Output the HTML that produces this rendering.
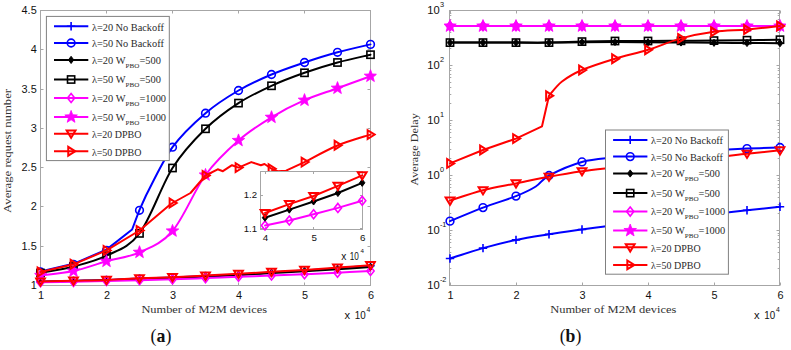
<!DOCTYPE html>
<html><head><meta charset="utf-8"><style>
html,body{margin:0;padding:0;background:#fff;width:791px;height:350px;overflow:hidden;position:relative;font-family:"Liberation Sans",sans-serif;}
</style></head><body>
<svg width="791" height="350" viewBox="0 0 791 350" style="position:absolute;left:0;top:0">
<rect width="791" height="350" fill="#fff"/>
<rect x="40.50" y="10.50" width="330.00" height="275.00" fill="#fff" stroke="#a6a6a6" stroke-width="1"/>
<path d="M40.50,285.50 v-3 M40.50,10.50 v3 M106.50,285.50 v-3 M106.50,10.50 v3 M172.50,285.50 v-3 M172.50,10.50 v3 M238.50,285.50 v-3 M238.50,10.50 v3 M304.50,285.50 v-3 M304.50,10.50 v3 M370.50,285.50 v-3 M370.50,10.50 v3 M40.50,285.50 h3 M370.50,285.50 h-3 M40.50,246.50 h3 M370.50,246.50 h-3 M40.50,206.50 h3 M370.50,206.50 h-3 M40.50,167.50 h3 M370.50,167.50 h-3 M40.50,128.50 h3 M370.50,128.50 h-3 M40.50,89.50 h3 M370.50,89.50 h-3 M40.50,49.50 h3 M370.50,49.50 h-3 M40.50,10.50 h3 M370.50,10.50 h-3" stroke="#a6a6a6" stroke-width="1" fill="none"/>
<defs><clipPath id="cl"><rect x="34.50" y="4.70" width="342.00" height="286.70"/></clipPath>
<clipPath id="cr"><rect x="444.00" y="4.50" width="342.00" height="287.00"/></clipPath></defs>
<g clip-path="url(#cl)">
<path d="M40.50,281.63 C46.00,281.50 62.50,281.11 73.50,280.85 C84.50,280.59 95.50,280.44 106.50,280.06 C117.50,279.68 128.50,278.99 139.50,278.57 C150.50,278.15 161.50,277.98 172.50,277.55 C183.50,277.12 194.50,276.50 205.50,275.98 C216.50,275.46 227.50,275.00 238.50,274.41 C249.50,273.82 260.50,273.10 271.50,272.45 C282.50,271.80 293.50,271.21 304.50,270.49 C315.50,269.77 326.50,268.92 337.50,268.13 C348.50,267.35 365.00,266.17 370.50,265.78" fill="none" stroke="#0000ff" stroke-width="2.00" stroke-linejoin="round" stroke-linecap="round"/>
<path d="M36.30,281.63 h8.40 M40.50,277.43 v8.40" stroke="#0000ff" stroke-width="1.60"/>
<path d="M69.30,280.85 h8.40 M73.50,276.65 v8.40" stroke="#0000ff" stroke-width="1.60"/>
<path d="M102.30,280.06 h8.40 M106.50,275.86 v8.40" stroke="#0000ff" stroke-width="1.60"/>
<path d="M135.30,278.57 h8.40 M139.50,274.37 v8.40" stroke="#0000ff" stroke-width="1.60"/>
<path d="M168.30,277.55 h8.40 M172.50,273.35 v8.40" stroke="#0000ff" stroke-width="1.60"/>
<path d="M201.30,275.98 h8.40 M205.50,271.78 v8.40" stroke="#0000ff" stroke-width="1.60"/>
<path d="M234.30,274.41 h8.40 M238.50,270.21 v8.40" stroke="#0000ff" stroke-width="1.60"/>
<path d="M267.30,272.45 h8.40 M271.50,268.25 v8.40" stroke="#0000ff" stroke-width="1.60"/>
<path d="M300.30,270.49 h8.40 M304.50,266.29 v8.40" stroke="#0000ff" stroke-width="1.60"/>
<path d="M333.30,268.13 h8.40 M337.50,263.93 v8.40" stroke="#0000ff" stroke-width="1.60"/>
<path d="M366.30,265.78 h8.40 M370.50,261.58 v8.40" stroke="#0000ff" stroke-width="1.60"/>
<path d="M40.50,271.50 L73.50,263.80 L106.50,249.60 L132.10,229.50 L139.30,210.30 L146.00,195.50 L146.00,195.50 C150.42,187.45 162.58,160.92 172.50,147.20 C182.42,133.48 194.50,122.65 205.50,113.20 C216.50,103.75 227.50,96.95 238.50,90.50 C249.50,84.05 260.50,79.17 271.50,74.50 C282.50,69.83 293.50,66.20 304.50,62.50 C315.50,58.80 326.50,55.32 337.50,52.30 C348.50,49.28 365.00,45.72 370.50,44.40" fill="none" stroke="#0000ff" stroke-width="2.00" stroke-linejoin="round" stroke-linecap="round"/>
<circle cx="40.50" cy="272.00" r="3.85" fill="none" stroke="#0000ff" stroke-width="1.60"/>
<circle cx="73.50" cy="264.30" r="3.85" fill="none" stroke="#0000ff" stroke-width="1.60"/>
<circle cx="106.50" cy="250.40" r="3.85" fill="none" stroke="#0000ff" stroke-width="1.60"/>
<circle cx="139.50" cy="210.30" r="3.85" fill="none" stroke="#0000ff" stroke-width="1.60"/>
<circle cx="172.50" cy="147.20" r="3.85" fill="none" stroke="#0000ff" stroke-width="1.60"/>
<circle cx="205.50" cy="113.20" r="3.85" fill="none" stroke="#0000ff" stroke-width="1.60"/>
<circle cx="238.50" cy="90.50" r="3.85" fill="none" stroke="#0000ff" stroke-width="1.60"/>
<circle cx="271.50" cy="74.50" r="3.85" fill="none" stroke="#0000ff" stroke-width="1.60"/>
<circle cx="304.50" cy="62.50" r="3.85" fill="none" stroke="#0000ff" stroke-width="1.60"/>
<circle cx="337.50" cy="52.30" r="3.85" fill="none" stroke="#0000ff" stroke-width="1.60"/>
<circle cx="370.50" cy="44.40" r="3.85" fill="none" stroke="#0000ff" stroke-width="1.60"/>
<path d="M40.50,281.87 C46.00,281.74 62.50,281.34 73.50,281.08 C84.50,280.82 95.50,280.63 106.50,280.30 C117.50,279.97 128.50,279.51 139.50,279.12 C150.50,278.73 161.50,278.38 172.50,277.94 C183.50,277.51 194.50,277.03 205.50,276.53 C216.50,276.03 227.50,275.54 238.50,274.96 C249.50,274.39 260.50,273.71 271.50,273.08 C282.50,272.45 293.50,271.84 304.50,271.19 C315.50,270.55 326.50,269.95 337.50,269.23 C348.50,268.51 365.00,267.27 370.50,266.88" fill="none" stroke="#000000" stroke-width="2.00" stroke-linejoin="round" stroke-linecap="round"/>
<path d="M40.50,278.27 L43.20,281.87 L40.50,285.47 L37.80,281.87 Z" fill="#000000" stroke="#000000" stroke-width="0.96"/>
<path d="M73.50,277.48 L76.20,281.08 L73.50,284.68 L70.80,281.08 Z" fill="#000000" stroke="#000000" stroke-width="0.96"/>
<path d="M106.50,276.70 L109.20,280.30 L106.50,283.90 L103.80,280.30 Z" fill="#000000" stroke="#000000" stroke-width="0.96"/>
<path d="M139.50,275.52 L142.20,279.12 L139.50,282.72 L136.80,279.12 Z" fill="#000000" stroke="#000000" stroke-width="0.96"/>
<path d="M172.50,274.34 L175.20,277.94 L172.50,281.54 L169.80,277.94 Z" fill="#000000" stroke="#000000" stroke-width="0.96"/>
<path d="M205.50,272.93 L208.20,276.53 L205.50,280.13 L202.80,276.53 Z" fill="#000000" stroke="#000000" stroke-width="0.96"/>
<path d="M238.50,271.36 L241.20,274.96 L238.50,278.56 L235.80,274.96 Z" fill="#000000" stroke="#000000" stroke-width="0.96"/>
<path d="M271.50,269.48 L274.20,273.08 L271.50,276.68 L268.80,273.08 Z" fill="#000000" stroke="#000000" stroke-width="0.96"/>
<path d="M304.50,267.59 L307.20,271.19 L304.50,274.79 L301.80,271.19 Z" fill="#000000" stroke="#000000" stroke-width="0.96"/>
<path d="M337.50,265.63 L340.20,269.23 L337.50,272.83 L334.80,269.23 Z" fill="#000000" stroke="#000000" stroke-width="0.96"/>
<path d="M370.50,263.28 L373.20,266.88 L370.50,270.48 L367.80,266.88 Z" fill="#000000" stroke="#000000" stroke-width="0.96"/>
<path d="M40.50,273.00 C46.00,271.92 62.50,269.38 73.50,266.50 C84.50,263.62 95.50,261.22 106.50,255.70 C117.50,250.18 128.50,248.02 139.50,233.40 C150.50,218.78 161.50,185.43 172.50,168.00 C183.50,150.57 194.50,139.62 205.50,128.80 C216.50,117.98 227.50,110.27 238.50,103.10 C249.50,95.93 260.50,90.85 271.50,85.80 C282.50,80.75 293.50,76.68 304.50,72.80 C315.50,68.92 326.50,65.52 337.50,62.50 C348.50,59.48 365.00,56.00 370.50,54.70" fill="none" stroke="#000000" stroke-width="2.00" stroke-linejoin="round" stroke-linecap="round"/>
<rect x="36.90" y="269.40" width="7.20" height="7.20" fill="none" stroke="#000000" stroke-width="1.60"/>
<rect x="69.90" y="262.90" width="7.20" height="7.20" fill="none" stroke="#000000" stroke-width="1.60"/>
<rect x="102.90" y="252.10" width="7.20" height="7.20" fill="none" stroke="#000000" stroke-width="1.60"/>
<rect x="135.90" y="229.80" width="7.20" height="7.20" fill="none" stroke="#000000" stroke-width="1.60"/>
<rect x="168.90" y="164.40" width="7.20" height="7.20" fill="none" stroke="#000000" stroke-width="1.60"/>
<rect x="201.90" y="125.20" width="7.20" height="7.20" fill="none" stroke="#000000" stroke-width="1.60"/>
<rect x="234.90" y="99.50" width="7.20" height="7.20" fill="none" stroke="#000000" stroke-width="1.60"/>
<rect x="267.90" y="82.20" width="7.20" height="7.20" fill="none" stroke="#000000" stroke-width="1.60"/>
<rect x="300.90" y="69.20" width="7.20" height="7.20" fill="none" stroke="#000000" stroke-width="1.60"/>
<rect x="333.90" y="58.90" width="7.20" height="7.20" fill="none" stroke="#000000" stroke-width="1.60"/>
<rect x="366.90" y="51.10" width="7.20" height="7.20" fill="none" stroke="#000000" stroke-width="1.60"/>
<path d="M40.50,282.26 C46.00,282.20 62.50,282.06 73.50,281.87 C84.50,281.67 95.50,281.34 106.50,281.08 C117.50,280.82 128.50,280.59 139.50,280.30 C150.50,280.01 161.50,279.72 172.50,279.36 C183.50,278.99 194.50,278.53 205.50,278.10 C216.50,277.67 227.50,277.19 238.50,276.77 C249.50,276.35 260.50,276.02 271.50,275.59 C282.50,275.16 293.50,274.66 304.50,274.18 C315.50,273.69 326.50,273.21 337.50,272.69 C348.50,272.16 365.00,271.31 370.50,271.04" fill="none" stroke="#ff00ff" stroke-width="2.00" stroke-linejoin="round" stroke-linecap="round"/>
<path d="M40.50,277.76 L44.10,282.26 L40.50,286.76 L36.90,282.26 Z" fill="none" stroke="#ff00ff" stroke-width="1.60"/>
<path d="M73.50,277.37 L77.10,281.87 L73.50,286.37 L69.90,281.87 Z" fill="none" stroke="#ff00ff" stroke-width="1.60"/>
<path d="M106.50,276.58 L110.10,281.08 L106.50,285.58 L102.90,281.08 Z" fill="none" stroke="#ff00ff" stroke-width="1.60"/>
<path d="M139.50,275.80 L143.10,280.30 L139.50,284.80 L135.90,280.30 Z" fill="none" stroke="#ff00ff" stroke-width="1.60"/>
<path d="M172.50,274.86 L176.10,279.36 L172.50,283.86 L168.90,279.36 Z" fill="none" stroke="#ff00ff" stroke-width="1.60"/>
<path d="M205.50,273.60 L209.10,278.10 L205.50,282.60 L201.90,278.10 Z" fill="none" stroke="#ff00ff" stroke-width="1.60"/>
<path d="M238.50,272.27 L242.10,276.77 L238.50,281.27 L234.90,276.77 Z" fill="none" stroke="#ff00ff" stroke-width="1.60"/>
<path d="M271.50,271.09 L275.10,275.59 L271.50,280.09 L267.90,275.59 Z" fill="none" stroke="#ff00ff" stroke-width="1.60"/>
<path d="M304.50,269.68 L308.10,274.18 L304.50,278.68 L300.90,274.18 Z" fill="none" stroke="#ff00ff" stroke-width="1.60"/>
<path d="M337.50,268.19 L341.10,272.69 L337.50,277.19 L333.90,272.69 Z" fill="none" stroke="#ff00ff" stroke-width="1.60"/>
<path d="M370.50,266.54 L374.10,271.04 L370.50,275.54 L366.90,271.04 Z" fill="none" stroke="#ff00ff" stroke-width="1.60"/>
<path d="M40.50,275.40 C46.00,274.68 62.50,273.45 73.50,271.10 C84.50,268.75 95.50,264.43 106.50,261.30 C117.50,258.17 128.50,257.35 139.50,252.30 C150.50,247.25 161.50,243.88 172.50,231.00 C183.50,218.12 194.50,190.08 205.50,175.00 C216.50,159.92 227.50,150.12 238.50,140.50 C249.50,130.88 260.50,124.02 271.50,117.30 C282.50,110.58 293.50,105.05 304.50,100.20 C315.50,95.35 326.50,92.20 337.50,88.20 C348.50,84.20 365.00,78.20 370.50,76.20" fill="none" stroke="#ff00ff" stroke-width="2.00" stroke-linejoin="round" stroke-linecap="round"/>
<path d="M40.50,268.80 L42.13,273.16 L46.78,273.36 L43.14,276.26 L44.38,280.74 L40.50,278.17 L36.62,280.74 L37.86,276.26 L34.22,273.36 L38.87,273.16 Z" fill="#ff00ff" stroke="#ff00ff" stroke-width="0.80" stroke-linejoin="miter"/>
<path d="M73.50,264.50 L75.13,268.86 L79.78,269.06 L76.14,271.96 L77.38,276.44 L73.50,273.87 L69.62,276.44 L70.86,271.96 L67.22,269.06 L71.87,268.86 Z" fill="#ff00ff" stroke="#ff00ff" stroke-width="0.80" stroke-linejoin="miter"/>
<path d="M106.50,254.70 L108.13,259.06 L112.78,259.26 L109.14,262.16 L110.38,266.64 L106.50,264.07 L102.62,266.64 L103.86,262.16 L100.22,259.26 L104.87,259.06 Z" fill="#ff00ff" stroke="#ff00ff" stroke-width="0.80" stroke-linejoin="miter"/>
<path d="M139.50,245.70 L141.13,250.06 L145.78,250.26 L142.14,253.16 L143.38,257.64 L139.50,255.07 L135.62,257.64 L136.86,253.16 L133.22,250.26 L137.87,250.06 Z" fill="#ff00ff" stroke="#ff00ff" stroke-width="0.80" stroke-linejoin="miter"/>
<path d="M172.50,224.40 L174.13,228.76 L178.78,228.96 L175.14,231.86 L176.38,236.34 L172.50,233.77 L168.62,236.34 L169.86,231.86 L166.22,228.96 L170.87,228.76 Z" fill="#ff00ff" stroke="#ff00ff" stroke-width="0.80" stroke-linejoin="miter"/>
<path d="M205.50,168.40 L207.13,172.76 L211.78,172.96 L208.14,175.86 L209.38,180.34 L205.50,177.77 L201.62,180.34 L202.86,175.86 L199.22,172.96 L203.87,172.76 Z" fill="#ff00ff" stroke="#ff00ff" stroke-width="0.80" stroke-linejoin="miter"/>
<path d="M238.50,133.90 L240.13,138.26 L244.78,138.46 L241.14,141.36 L242.38,145.84 L238.50,143.27 L234.62,145.84 L235.86,141.36 L232.22,138.46 L236.87,138.26 Z" fill="#ff00ff" stroke="#ff00ff" stroke-width="0.80" stroke-linejoin="miter"/>
<path d="M271.50,110.70 L273.13,115.06 L277.78,115.26 L274.14,118.16 L275.38,122.64 L271.50,120.07 L267.62,122.64 L268.86,118.16 L265.22,115.26 L269.87,115.06 Z" fill="#ff00ff" stroke="#ff00ff" stroke-width="0.80" stroke-linejoin="miter"/>
<path d="M304.50,93.60 L306.13,97.96 L310.78,98.16 L307.14,101.06 L308.38,105.54 L304.50,102.97 L300.62,105.54 L301.86,101.06 L298.22,98.16 L302.87,97.96 Z" fill="#ff00ff" stroke="#ff00ff" stroke-width="0.80" stroke-linejoin="miter"/>
<path d="M337.50,81.60 L339.13,85.96 L343.78,86.16 L340.14,89.06 L341.38,93.54 L337.50,90.97 L333.62,93.54 L334.86,89.06 L331.22,86.16 L335.87,85.96 Z" fill="#ff00ff" stroke="#ff00ff" stroke-width="0.80" stroke-linejoin="miter"/>
<path d="M370.50,69.60 L372.13,73.96 L376.78,74.16 L373.14,77.06 L374.38,81.54 L370.50,78.97 L366.62,81.54 L367.86,77.06 L364.22,74.16 L368.87,73.96 Z" fill="#ff00ff" stroke="#ff00ff" stroke-width="0.80" stroke-linejoin="miter"/>
<path d="M40.50,281.48 C46.00,281.34 62.50,280.95 73.50,280.69 C84.50,280.43 95.50,280.30 106.50,279.91 C117.50,279.51 128.50,278.79 139.50,278.34 C150.50,277.88 161.50,277.62 172.50,277.16 C183.50,276.70 194.50,276.14 205.50,275.59 C216.50,275.04 227.50,274.49 238.50,273.86 C249.50,273.23 260.50,272.48 271.50,271.82 C282.50,271.17 293.50,270.64 304.50,269.94 C315.50,269.23 326.50,268.38 337.50,267.58 C348.50,266.79 365.00,265.56 370.50,265.15" fill="none" stroke="#ff0000" stroke-width="2.00" stroke-linejoin="round" stroke-linecap="round"/>
<path d="M36.10,278.40 L44.90,278.40 L40.50,285.66 Z" fill="none" stroke="#ff0000" stroke-width="2.00" stroke-linejoin="miter"/>
<path d="M69.10,277.61 L77.90,277.61 L73.50,284.87 Z" fill="none" stroke="#ff0000" stroke-width="2.00" stroke-linejoin="miter"/>
<path d="M102.10,276.83 L110.90,276.83 L106.50,284.09 Z" fill="none" stroke="#ff0000" stroke-width="2.00" stroke-linejoin="miter"/>
<path d="M135.10,275.26 L143.90,275.26 L139.50,282.52 Z" fill="none" stroke="#ff0000" stroke-width="2.00" stroke-linejoin="miter"/>
<path d="M168.10,274.08 L176.90,274.08 L172.50,281.34 Z" fill="none" stroke="#ff0000" stroke-width="2.00" stroke-linejoin="miter"/>
<path d="M201.10,272.51 L209.90,272.51 L205.50,279.77 Z" fill="none" stroke="#ff0000" stroke-width="2.00" stroke-linejoin="miter"/>
<path d="M234.10,270.78 L242.90,270.78 L238.50,278.04 Z" fill="none" stroke="#ff0000" stroke-width="2.00" stroke-linejoin="miter"/>
<path d="M267.10,268.74 L275.90,268.74 L271.50,276.00 Z" fill="none" stroke="#ff0000" stroke-width="2.00" stroke-linejoin="miter"/>
<path d="M300.10,266.86 L308.90,266.86 L304.50,274.12 Z" fill="none" stroke="#ff0000" stroke-width="2.00" stroke-linejoin="miter"/>
<path d="M333.10,264.50 L341.90,264.50 L337.50,271.76 Z" fill="none" stroke="#ff0000" stroke-width="2.00" stroke-linejoin="miter"/>
<path d="M366.10,262.07 L374.90,262.07 L370.50,269.33 Z" fill="none" stroke="#ff0000" stroke-width="2.00" stroke-linejoin="miter"/>
<path d="M40.50,272.00 L73.50,264.30 L106.50,250.40 L139.50,230.50 L169.60,205.00 L172.50,203.00 L190.50,193.00 L205.50,175.50 L217.70,169.30 L222.90,171.20 L232.00,165.20 L238.50,167.60 L251.30,162.10 L260.90,165.20 L264.50,164.00 L271.50,168.80 L277.70,171.20 L286.10,170.70 L304.50,162.10 L304.50,162.10 C310.00,159.33 326.50,150.08 337.50,145.50 C348.50,140.92 365.00,136.42 370.50,134.60" fill="none" stroke="#ff0000" stroke-width="2.00" stroke-linejoin="round" stroke-linecap="round"/>
<path d="M37.64,267.60 L37.64,276.40 L44.68,272.00 Z" fill="none" stroke="#ff0000" stroke-width="2.00"/>
<path d="M70.64,259.90 L70.64,268.70 L77.68,264.30 Z" fill="none" stroke="#ff0000" stroke-width="2.00"/>
<path d="M103.64,246.00 L103.64,254.80 L110.68,250.40 Z" fill="none" stroke="#ff0000" stroke-width="2.00"/>
<path d="M136.64,226.10 L136.64,234.90 L143.68,230.50 Z" fill="none" stroke="#ff0000" stroke-width="2.00"/>
<path d="M169.64,198.60 L169.64,207.40 L176.68,203.00 Z" fill="none" stroke="#ff0000" stroke-width="2.00"/>
<path d="M202.64,171.10 L202.64,179.90 L209.68,175.50 Z" fill="none" stroke="#ff0000" stroke-width="2.00"/>
<path d="M235.64,163.20 L235.64,172.00 L242.68,167.60 Z" fill="none" stroke="#ff0000" stroke-width="2.00"/>
<path d="M268.64,164.40 L268.64,173.20 L275.68,168.80 Z" fill="none" stroke="#ff0000" stroke-width="2.00"/>
<path d="M301.64,157.70 L301.64,166.50 L308.68,162.10 Z" fill="none" stroke="#ff0000" stroke-width="2.00"/>
<path d="M334.64,140.90 L334.64,149.70 L341.68,145.30 Z" fill="none" stroke="#ff0000" stroke-width="2.00"/>
<path d="M367.64,130.20 L367.64,139.00 L374.68,134.60 Z" fill="none" stroke="#ff0000" stroke-width="2.00"/>
</g>
<rect x="46.40" y="16.40" width="122.90" height="144.20" fill="#fff" stroke="#808080" stroke-width="1"/>
<path d="M54.00,26.30 H88.30" stroke="#0000ff" stroke-width="2.00"/>
<path d="M66.90,26.30 h8.40 M71.10,22.10 v8.40" stroke="#0000ff" stroke-width="1.60"/>
<text x="91.90" y="30.70" font-family="'Liberation Serif', serif" font-size="10.4" textLength="72.0" lengthAdjust="spacingAndGlyphs" fill="#2a2a2a">λ=20 No Backoff</text>
<path d="M54.00,43.00 H88.30" stroke="#0000ff" stroke-width="2.00"/>
<circle cx="71.10" cy="43.00" r="3.85" fill="none" stroke="#0000ff" stroke-width="1.60"/>
<text x="91.90" y="47.40" font-family="'Liberation Serif', serif" font-size="10.4" textLength="72.0" lengthAdjust="spacingAndGlyphs" fill="#2a2a2a">λ=50 No Backoff</text>
<path d="M54.00,59.90 H88.30" stroke="#000000" stroke-width="2.00"/>
<path d="M71.10,56.30 L73.80,59.90 L71.10,63.50 L68.40,59.90 Z" fill="#000000" stroke="#000000" stroke-width="0.96"/>
<text x="91.90" y="63.50" font-family="'Liberation Serif', serif" font-size="10.4" fill="#2a2a2a">λ=20 W<tspan font-size="7.1" dy="4.0">PBO</tspan><tspan dy="-4.0">=500</tspan></text>
<path d="M54.00,79.50 H88.30" stroke="#000000" stroke-width="2.00"/>
<rect x="67.50" y="75.90" width="7.20" height="7.20" fill="none" stroke="#000000" stroke-width="1.60"/>
<text x="91.90" y="83.10" font-family="'Liberation Serif', serif" font-size="10.4" fill="#2a2a2a">λ=50 W<tspan font-size="7.1" dy="4.0">PBO</tspan><tspan dy="-4.0">=500</tspan></text>
<path d="M54.00,98.00 H88.30" stroke="#ff00ff" stroke-width="2.00"/>
<path d="M71.10,93.50 L74.70,98.00 L71.10,102.50 L67.50,98.00 Z" fill="none" stroke="#ff00ff" stroke-width="1.60"/>
<text x="91.90" y="101.60" font-family="'Liberation Serif', serif" font-size="10.4" fill="#2a2a2a">λ=20 W<tspan font-size="7.1" dy="4.0">PBO</tspan><tspan dy="-4.0">=1000</tspan></text>
<path d="M54.00,117.00 H88.30" stroke="#ff00ff" stroke-width="2.00"/>
<path d="M71.10,110.40 L72.73,114.76 L77.38,114.96 L73.74,117.86 L74.98,122.34 L71.10,119.77 L67.22,122.34 L68.46,117.86 L64.82,114.96 L69.47,114.76 Z" fill="#ff00ff" stroke="#ff00ff" stroke-width="0.80" stroke-linejoin="miter"/>
<text x="91.90" y="120.60" font-family="'Liberation Serif', serif" font-size="10.4" fill="#2a2a2a">λ=50 W<tspan font-size="7.1" dy="4.0">PBO</tspan><tspan dy="-4.0">=1000</tspan></text>
<path d="M54.00,133.70 H88.30" stroke="#ff0000" stroke-width="2.00"/>
<path d="M66.70,130.62 L75.50,130.62 L71.10,137.88 Z" fill="none" stroke="#ff0000" stroke-width="2.00" stroke-linejoin="miter"/>
<text x="91.90" y="138.10" font-family="'Liberation Serif', serif" font-size="10.4" textLength="49.6" lengthAdjust="spacingAndGlyphs" fill="#2a2a2a">λ=20 DPBO</text>
<path d="M54.00,151.30 H88.30" stroke="#ff0000" stroke-width="2.00"/>
<path d="M68.24,146.90 L68.24,155.70 L75.28,151.30 Z" fill="none" stroke="#ff0000" stroke-width="2.00"/>
<text x="91.90" y="155.70" font-family="'Liberation Serif', serif" font-size="10.4" textLength="49.6" lengthAdjust="spacingAndGlyphs" fill="#2a2a2a">λ=50 DPBO</text>
<rect x="260.50" y="171.50" width="102.00" height="58.00" fill="#fff" stroke="#a6a6a6" stroke-width="1"/>
<path d="M265.50,229.50 v-2.5 M265.50,171.50 v2.5 M313.50,229.50 v-2.5 M313.50,171.50 v2.5 M362.50,229.50 v-2.5 M362.50,171.50 v2.5 M260.50,228.50 h2.5 M362.50,228.50 h-2.5 M260.50,195.50 h2.5 M362.50,195.50 h-2.5" stroke="#a6a6a6" stroke-width="1" fill="none"/>
<path d="M265.00,225.51 L289.30,220.43 L313.60,214.32 L337.90,207.88 L362.20,200.76" fill="none" stroke="#ff00ff" stroke-width="2.00" stroke-linejoin="round" stroke-linecap="round"/>
<path d="M265.00,221.01 L268.60,225.51 L265.00,230.01 L261.40,225.51 Z" fill="none" stroke="#ff00ff" stroke-width="1.60"/>
<path d="M289.30,215.93 L292.90,220.43 L289.30,224.93 L285.70,220.43 Z" fill="none" stroke="#ff00ff" stroke-width="1.60"/>
<path d="M313.60,209.82 L317.20,214.32 L313.60,218.82 L310.00,214.32 Z" fill="none" stroke="#ff00ff" stroke-width="1.60"/>
<path d="M337.90,203.38 L341.50,207.88 L337.90,212.38 L334.30,207.88 Z" fill="none" stroke="#ff00ff" stroke-width="1.60"/>
<path d="M362.20,196.26 L365.80,200.76 L362.20,205.26 L358.60,200.76 Z" fill="none" stroke="#ff00ff" stroke-width="1.60"/>
<path d="M265.00,217.71 L289.30,209.58 L313.60,201.44 L337.90,192.97 L362.20,182.80" fill="none" stroke="#000000" stroke-width="2.00" stroke-linejoin="round" stroke-linecap="round"/>
<path d="M265.00,214.11 L267.70,217.71 L265.00,221.31 L262.30,217.71 Z" fill="#000000" stroke="#000000" stroke-width="0.96"/>
<path d="M289.30,205.98 L292.00,209.58 L289.30,213.18 L286.60,209.58 Z" fill="#000000" stroke="#000000" stroke-width="0.96"/>
<path d="M313.60,197.84 L316.30,201.44 L313.60,205.04 L310.90,201.44 Z" fill="#000000" stroke="#000000" stroke-width="0.96"/>
<path d="M337.90,189.37 L340.60,192.97 L337.90,196.57 L335.20,192.97 Z" fill="#000000" stroke="#000000" stroke-width="0.96"/>
<path d="M362.20,179.20 L364.90,182.80 L362.20,186.40 L359.50,182.80 Z" fill="#000000" stroke="#000000" stroke-width="0.96"/>
<path d="M265.00,212.97 L289.30,204.15 L313.60,196.02 L337.90,185.85 L362.20,175.34" fill="none" stroke="#ff0000" stroke-width="2.00" stroke-linejoin="round" stroke-linecap="round"/>
<path d="M260.60,209.89 L269.40,209.89 L265.00,217.15 Z" fill="none" stroke="#ff0000" stroke-width="2.00" stroke-linejoin="miter"/>
<path d="M284.90,201.07 L293.70,201.07 L289.30,208.33 Z" fill="none" stroke="#ff0000" stroke-width="2.00" stroke-linejoin="miter"/>
<path d="M309.20,192.94 L318.00,192.94 L313.60,200.20 Z" fill="none" stroke="#ff0000" stroke-width="2.00" stroke-linejoin="miter"/>
<path d="M333.50,182.77 L342.30,182.77 L337.90,190.03 Z" fill="none" stroke="#ff0000" stroke-width="2.00" stroke-linejoin="miter"/>
<path d="M357.80,172.26 L366.60,172.26 L362.20,179.52 Z" fill="none" stroke="#ff0000" stroke-width="2.00" stroke-linejoin="miter"/>
<text x="265.60" y="241.0" font-family="'Liberation Sans', sans-serif" font-size="9.8" text-anchor="middle" fill="#111">4</text>
<text x="314.20" y="241.0" font-family="'Liberation Sans', sans-serif" font-size="9.8" text-anchor="middle" fill="#111">5</text>
<text x="362.80" y="241.0" font-family="'Liberation Sans', sans-serif" font-size="9.8" text-anchor="middle" fill="#111">6</text>
<text x="257" y="198.4" font-family="'Liberation Sans', sans-serif" font-size="9.6" text-anchor="end" fill="#111">1.2</text>
<text x="257" y="232.3" font-family="'Liberation Sans', sans-serif" font-size="9.6" text-anchor="end" fill="#111">1.1</text>
<text x="341.20" y="259.90" font-family="'Liberation Sans', sans-serif" font-size="10.20" fill="#111">x</text>
<text x="349.80" y="259.90" font-family="'Liberation Sans', sans-serif" font-size="10.20" textLength="9.10" lengthAdjust="spacingAndGlyphs" fill="#111">10</text>
<text x="360.60" y="253.20" font-family="'Liberation Sans', sans-serif" font-size="6.20" fill="#111">4</text>
<text x="36.7" y="288.90" font-family="'Liberation Sans', sans-serif" font-size="10.9" text-anchor="end" fill="#111">1</text>
<text x="36.7" y="249.66" font-family="'Liberation Sans', sans-serif" font-size="10.9" text-anchor="end" fill="#111">1.5</text>
<text x="36.7" y="210.41" font-family="'Liberation Sans', sans-serif" font-size="10.9" text-anchor="end" fill="#111">2</text>
<text x="36.7" y="171.17" font-family="'Liberation Sans', sans-serif" font-size="10.9" text-anchor="end" fill="#111">2.5</text>
<text x="36.7" y="131.93" font-family="'Liberation Sans', sans-serif" font-size="10.9" text-anchor="end" fill="#111">3</text>
<text x="36.7" y="92.69" font-family="'Liberation Sans', sans-serif" font-size="10.9" text-anchor="end" fill="#111">3.5</text>
<text x="36.7" y="53.44" font-family="'Liberation Sans', sans-serif" font-size="10.9" text-anchor="end" fill="#111">4</text>
<text x="36.7" y="14.20" font-family="'Liberation Sans', sans-serif" font-size="10.9" text-anchor="end" fill="#111">4.5</text>
<text x="41.00" y="298.8" font-family="'Liberation Sans', sans-serif" font-size="10.9" text-anchor="middle" fill="#111">1</text>
<text x="107.00" y="298.8" font-family="'Liberation Sans', sans-serif" font-size="10.9" text-anchor="middle" fill="#111">2</text>
<text x="173.00" y="298.8" font-family="'Liberation Sans', sans-serif" font-size="10.9" text-anchor="middle" fill="#111">3</text>
<text x="239.00" y="298.8" font-family="'Liberation Sans', sans-serif" font-size="10.9" text-anchor="middle" fill="#111">4</text>
<text x="305.00" y="298.8" font-family="'Liberation Sans', sans-serif" font-size="10.9" text-anchor="middle" fill="#111">5</text>
<text x="371.00" y="298.8" font-family="'Liberation Sans', sans-serif" font-size="10.9" text-anchor="middle" fill="#111">6</text>
<text x="344.60" y="319.20" font-family="'Liberation Sans', sans-serif" font-size="11.20" fill="#111">x</text>
<text x="354.80" y="319.20" font-family="'Liberation Sans', sans-serif" font-size="11.20" textLength="10.90" lengthAdjust="spacingAndGlyphs" fill="#111">10</text>
<text x="366.50" y="312.00" font-family="'Liberation Sans', sans-serif" font-size="6.80" fill="#111">4</text>
<text x="141.4" y="313.2" font-family="'Liberation Serif', serif" font-size="11" textLength="125.6" lengthAdjust="spacingAndGlyphs" fill="#333">Number of M2M devices</text>
<text x="150.6" y="341.8" font-family="'Liberation Serif', serif" font-size="19.5" textLength="20.8" lengthAdjust="spacingAndGlyphs" fill="#111">(<tspan font-weight="bold">a</tspan>)</text>
<text transform="translate(11.4,212.9) rotate(-90)" x="0" y="0" font-family="'Liberation Serif', serif" font-size="10.6" textLength="124" lengthAdjust="spacingAndGlyphs" fill="#333">Average request number</text>
<rect x="449.50" y="10.50" width="330.00" height="275.00" fill="#fff" stroke="#a6a6a6" stroke-width="1"/>
<path d="M450.50,285.50 v-3 M450.50,10.50 v3 M516.50,285.50 v-3 M516.50,10.50 v3 M582.50,285.50 v-3 M582.50,10.50 v3 M648.50,285.50 v-3 M648.50,10.50 v3 M714.50,285.50 v-3 M714.50,10.50 v3 M780.50,285.50 v-3 M780.50,10.50 v3 M449.50,285.50 h3 M779.50,285.50 h-3 M449.50,268.50 h1.8 M779.50,268.50 h-1.8 M449.50,259.50 h1.8 M779.50,259.50 h-1.8 M449.50,252.50 h1.8 M779.50,252.50 h-1.8 M449.50,247.50 h1.8 M779.50,247.50 h-1.8 M449.50,242.50 h1.8 M779.50,242.50 h-1.8 M449.50,239.50 h1.8 M779.50,239.50 h-1.8 M449.50,235.50 h1.8 M779.50,235.50 h-1.8 M449.50,233.50 h1.8 M779.50,233.50 h-1.8 M449.50,230.50 h3 M779.50,230.50 h-3 M449.50,213.50 h1.8 M779.50,213.50 h-1.8 M449.50,204.50 h1.8 M779.50,204.50 h-1.8 M449.50,197.50 h1.8 M779.50,197.50 h-1.8 M449.50,192.50 h1.8 M779.50,192.50 h-1.8 M449.50,187.50 h1.8 M779.50,187.50 h-1.8 M449.50,184.50 h1.8 M779.50,184.50 h-1.8 M449.50,180.50 h1.8 M779.50,180.50 h-1.8 M449.50,178.50 h1.8 M779.50,178.50 h-1.8 M449.50,175.50 h3 M779.50,175.50 h-3 M449.50,158.50 h1.8 M779.50,158.50 h-1.8 M449.50,149.50 h1.8 M779.50,149.50 h-1.8 M449.50,142.50 h1.8 M779.50,142.50 h-1.8 M449.50,137.50 h1.8 M779.50,137.50 h-1.8 M449.50,132.50 h1.8 M779.50,132.50 h-1.8 M449.50,129.50 h1.8 M779.50,129.50 h-1.8 M449.50,125.50 h1.8 M779.50,125.50 h-1.8 M449.50,123.50 h1.8 M779.50,123.50 h-1.8 M449.50,120.50 h3 M779.50,120.50 h-3 M449.50,103.50 h1.8 M779.50,103.50 h-1.8 M449.50,94.50 h1.8 M779.50,94.50 h-1.8 M449.50,87.50 h1.8 M779.50,87.50 h-1.8 M449.50,82.50 h1.8 M779.50,82.50 h-1.8 M449.50,77.50 h1.8 M779.50,77.50 h-1.8 M449.50,74.50 h1.8 M779.50,74.50 h-1.8 M449.50,70.50 h1.8 M779.50,70.50 h-1.8 M449.50,68.50 h1.8 M779.50,68.50 h-1.8 M449.50,65.50 h3 M779.50,65.50 h-3 M449.50,48.50 h1.8 M779.50,48.50 h-1.8 M449.50,39.50 h1.8 M779.50,39.50 h-1.8 M449.50,32.50 h1.8 M779.50,32.50 h-1.8 M449.50,27.50 h1.8 M779.50,27.50 h-1.8 M449.50,22.50 h1.8 M779.50,22.50 h-1.8 M449.50,19.50 h1.8 M779.50,19.50 h-1.8 M449.50,15.50 h1.8 M779.50,15.50 h-1.8 M449.50,13.50 h1.8 M779.50,13.50 h-1.8 M449.50,10.50 h3 M779.50,10.50 h-3" stroke="#a6a6a6" stroke-width="1" fill="none"/>
<g clip-path="url(#cr)">
<path d="M450.00,258.50 C455.50,256.76 472.00,251.20 483.00,248.10 C494.00,245.00 505.00,242.21 516.00,239.91 C527.00,237.60 538.00,236.03 549.00,234.29 C560.00,232.56 571.00,231.06 582.00,229.51 C593.00,227.96 604.00,226.39 615.00,225.00 C626.00,223.61 637.00,222.43 648.00,221.15 C659.00,219.87 670.00,218.49 681.00,217.30 C692.00,216.11 703.00,215.16 714.00,214.00 C725.00,212.84 736.00,211.52 747.00,210.31 C758.00,209.11 774.50,207.38 780.00,206.80" fill="none" stroke="#0000ff" stroke-width="2.00" stroke-linejoin="round" stroke-linecap="round"/>
<path d="M445.80,258.50 h8.40 M450.00,254.30 v8.40" stroke="#0000ff" stroke-width="1.60"/>
<path d="M478.80,248.10 h8.40 M483.00,243.90 v8.40" stroke="#0000ff" stroke-width="1.60"/>
<path d="M511.80,239.91 h8.40 M516.00,235.71 v8.40" stroke="#0000ff" stroke-width="1.60"/>
<path d="M544.80,234.29 h8.40 M549.00,230.09 v8.40" stroke="#0000ff" stroke-width="1.60"/>
<path d="M577.80,229.51 h8.40 M582.00,225.31 v8.40" stroke="#0000ff" stroke-width="1.60"/>
<path d="M610.80,225.00 h8.40 M615.00,220.80 v8.40" stroke="#0000ff" stroke-width="1.60"/>
<path d="M643.80,221.15 h8.40 M648.00,216.95 v8.40" stroke="#0000ff" stroke-width="1.60"/>
<path d="M676.80,217.30 h8.40 M681.00,213.10 v8.40" stroke="#0000ff" stroke-width="1.60"/>
<path d="M709.80,214.00 h8.40 M714.00,209.80 v8.40" stroke="#0000ff" stroke-width="1.60"/>
<path d="M742.80,210.31 h8.40 M747.00,206.12 v8.40" stroke="#0000ff" stroke-width="1.60"/>
<path d="M775.80,206.80 h8.40 M780.00,202.60 v8.40" stroke="#0000ff" stroke-width="1.60"/>
<path d="M450.00,221.15 C455.50,218.90 472.00,211.79 483.00,207.62 C494.00,203.45 507.20,199.65 516.00,196.12 C524.80,192.60 530.30,189.94 535.80,186.50 C541.30,183.06 541.30,179.60 549.00,175.50 C556.70,171.40 571.00,164.94 582.00,161.92 C593.00,158.89 604.00,158.66 615.00,157.35 C626.00,156.04 637.00,154.97 648.00,154.05 C659.00,153.13 670.00,152.49 681.00,151.85 C692.00,151.21 703.00,150.74 714.00,150.20 C725.00,149.66 736.00,149.05 747.00,148.61 C758.00,148.16 774.50,147.69 780.00,147.50" fill="none" stroke="#0000ff" stroke-width="2.00" stroke-linejoin="round" stroke-linecap="round"/>
<circle cx="450.00" cy="221.15" r="3.85" fill="none" stroke="#0000ff" stroke-width="1.60"/>
<circle cx="483.00" cy="207.62" r="3.85" fill="none" stroke="#0000ff" stroke-width="1.60"/>
<circle cx="516.00" cy="196.12" r="3.85" fill="none" stroke="#0000ff" stroke-width="1.60"/>
<circle cx="549.00" cy="175.50" r="3.85" fill="none" stroke="#0000ff" stroke-width="1.60"/>
<circle cx="582.00" cy="161.92" r="3.85" fill="none" stroke="#0000ff" stroke-width="1.60"/>
<circle cx="615.00" cy="157.35" r="3.85" fill="none" stroke="#0000ff" stroke-width="1.60"/>
<circle cx="648.00" cy="154.05" r="3.85" fill="none" stroke="#0000ff" stroke-width="1.60"/>
<circle cx="681.00" cy="151.85" r="3.85" fill="none" stroke="#0000ff" stroke-width="1.60"/>
<circle cx="714.00" cy="150.20" r="3.85" fill="none" stroke="#0000ff" stroke-width="1.60"/>
<circle cx="747.00" cy="148.61" r="3.85" fill="none" stroke="#0000ff" stroke-width="1.60"/>
<circle cx="780.00" cy="147.50" r="3.85" fill="none" stroke="#0000ff" stroke-width="1.60"/>
<path d="M450.00,42.60 C455.50,42.60 472.00,42.60 483.00,42.60 C494.00,42.60 505.00,42.60 516.00,42.60 C527.00,42.60 538.00,42.67 549.00,42.60 C560.00,42.53 571.00,42.30 582.00,42.20 C593.00,42.10 604.00,42.00 615.00,42.00 C626.00,42.00 637.00,42.12 648.00,42.20 C659.00,42.28 670.00,42.40 681.00,42.50 C692.00,42.60 703.00,42.72 714.00,42.80 C725.00,42.88 736.00,42.93 747.00,43.00 C758.00,43.07 774.50,43.17 780.00,43.20" fill="none" stroke="#000000" stroke-width="2.00" stroke-linejoin="round" stroke-linecap="round"/>
<path d="M450.00,39.00 L452.70,42.60 L450.00,46.20 L447.30,42.60 Z" fill="#000000" stroke="#000000" stroke-width="0.96"/>
<path d="M483.00,39.00 L485.70,42.60 L483.00,46.20 L480.30,42.60 Z" fill="#000000" stroke="#000000" stroke-width="0.96"/>
<path d="M516.00,39.00 L518.70,42.60 L516.00,46.20 L513.30,42.60 Z" fill="#000000" stroke="#000000" stroke-width="0.96"/>
<path d="M549.00,39.00 L551.70,42.60 L549.00,46.20 L546.30,42.60 Z" fill="#000000" stroke="#000000" stroke-width="0.96"/>
<path d="M582.00,38.60 L584.70,42.20 L582.00,45.80 L579.30,42.20 Z" fill="#000000" stroke="#000000" stroke-width="0.96"/>
<path d="M615.00,38.40 L617.70,42.00 L615.00,45.60 L612.30,42.00 Z" fill="#000000" stroke="#000000" stroke-width="0.96"/>
<path d="M648.00,38.60 L650.70,42.20 L648.00,45.80 L645.30,42.20 Z" fill="#000000" stroke="#000000" stroke-width="0.96"/>
<path d="M681.00,38.90 L683.70,42.50 L681.00,46.10 L678.30,42.50 Z" fill="#000000" stroke="#000000" stroke-width="0.96"/>
<path d="M714.00,39.20 L716.70,42.80 L714.00,46.40 L711.30,42.80 Z" fill="#000000" stroke="#000000" stroke-width="0.96"/>
<path d="M747.00,39.40 L749.70,43.00 L747.00,46.60 L744.30,43.00 Z" fill="#000000" stroke="#000000" stroke-width="0.96"/>
<path d="M780.00,39.60 L782.70,43.20 L780.00,46.80 L777.30,43.20 Z" fill="#000000" stroke="#000000" stroke-width="0.96"/>
<path d="M450.00,42.60 C455.50,42.60 472.00,42.60 483.00,42.60 C494.00,42.60 505.00,42.60 516.00,42.60 C527.00,42.60 538.00,42.77 549.00,42.60 C560.00,42.43 571.00,41.87 582.00,41.60 C593.00,41.33 604.00,41.10 615.00,41.00 C626.00,40.90 637.00,41.03 648.00,41.00 C659.00,40.97 670.00,40.87 681.00,40.80 C692.00,40.73 703.00,40.70 714.00,40.60 C725.00,40.50 736.00,40.35 747.00,40.20 C758.00,40.05 774.50,39.78 780.00,39.70" fill="none" stroke="#000000" stroke-width="2.00" stroke-linejoin="round" stroke-linecap="round"/>
<rect x="446.40" y="39.00" width="7.20" height="7.20" fill="none" stroke="#000000" stroke-width="1.60"/>
<rect x="479.40" y="39.00" width="7.20" height="7.20" fill="none" stroke="#000000" stroke-width="1.60"/>
<rect x="512.40" y="39.00" width="7.20" height="7.20" fill="none" stroke="#000000" stroke-width="1.60"/>
<rect x="545.40" y="39.00" width="7.20" height="7.20" fill="none" stroke="#000000" stroke-width="1.60"/>
<rect x="578.40" y="38.00" width="7.20" height="7.20" fill="none" stroke="#000000" stroke-width="1.60"/>
<rect x="611.40" y="37.40" width="7.20" height="7.20" fill="none" stroke="#000000" stroke-width="1.60"/>
<rect x="644.40" y="37.40" width="7.20" height="7.20" fill="none" stroke="#000000" stroke-width="1.60"/>
<rect x="677.40" y="37.20" width="7.20" height="7.20" fill="none" stroke="#000000" stroke-width="1.60"/>
<rect x="710.40" y="37.00" width="7.20" height="7.20" fill="none" stroke="#000000" stroke-width="1.60"/>
<rect x="743.40" y="36.60" width="7.20" height="7.20" fill="none" stroke="#000000" stroke-width="1.60"/>
<rect x="776.40" y="36.10" width="7.20" height="7.20" fill="none" stroke="#000000" stroke-width="1.60"/>
<path d="M450.00,26.10 L483.00,26.10 L516.00,26.10 L549.00,26.10 L582.00,26.10 L615.00,26.10 L648.00,26.10 L681.00,26.10 L714.00,26.10 L747.00,26.10 L780.00,26.10" fill="none" stroke="#ff00ff" stroke-width="2.00" stroke-linejoin="round" stroke-linecap="round"/>
<path d="M450.00,21.60 L453.60,26.10 L450.00,30.60 L446.40,26.10 Z" fill="none" stroke="#ff00ff" stroke-width="1.60"/>
<path d="M483.00,21.60 L486.60,26.10 L483.00,30.60 L479.40,26.10 Z" fill="none" stroke="#ff00ff" stroke-width="1.60"/>
<path d="M516.00,21.60 L519.60,26.10 L516.00,30.60 L512.40,26.10 Z" fill="none" stroke="#ff00ff" stroke-width="1.60"/>
<path d="M549.00,21.60 L552.60,26.10 L549.00,30.60 L545.40,26.10 Z" fill="none" stroke="#ff00ff" stroke-width="1.60"/>
<path d="M582.00,21.60 L585.60,26.10 L582.00,30.60 L578.40,26.10 Z" fill="none" stroke="#ff00ff" stroke-width="1.60"/>
<path d="M615.00,21.60 L618.60,26.10 L615.00,30.60 L611.40,26.10 Z" fill="none" stroke="#ff00ff" stroke-width="1.60"/>
<path d="M648.00,21.60 L651.60,26.10 L648.00,30.60 L644.40,26.10 Z" fill="none" stroke="#ff00ff" stroke-width="1.60"/>
<path d="M681.00,21.60 L684.60,26.10 L681.00,30.60 L677.40,26.10 Z" fill="none" stroke="#ff00ff" stroke-width="1.60"/>
<path d="M714.00,21.60 L717.60,26.10 L714.00,30.60 L710.40,26.10 Z" fill="none" stroke="#ff00ff" stroke-width="1.60"/>
<path d="M747.00,21.60 L750.60,26.10 L747.00,30.60 L743.40,26.10 Z" fill="none" stroke="#ff00ff" stroke-width="1.60"/>
<path d="M780.00,21.60 L783.60,26.10 L780.00,30.60 L776.40,26.10 Z" fill="none" stroke="#ff00ff" stroke-width="1.60"/>
<path d="M450.00,26.10 L483.00,26.10 L516.00,26.10 L549.00,26.10 L582.00,26.10 L615.00,26.10 L648.00,26.10 L681.00,26.10 L714.00,26.10 L747.00,26.10 L780.00,26.10" fill="none" stroke="#ff00ff" stroke-width="2.00" stroke-linejoin="round" stroke-linecap="round"/>
<path d="M450.00,19.50 L451.63,23.86 L456.28,24.06 L452.64,26.96 L453.88,31.44 L450.00,28.87 L446.12,31.44 L447.36,26.96 L443.72,24.06 L448.37,23.86 Z" fill="#ff00ff" stroke="#ff00ff" stroke-width="0.80" stroke-linejoin="miter"/>
<path d="M483.00,19.50 L484.63,23.86 L489.28,24.06 L485.64,26.96 L486.88,31.44 L483.00,28.87 L479.12,31.44 L480.36,26.96 L476.72,24.06 L481.37,23.86 Z" fill="#ff00ff" stroke="#ff00ff" stroke-width="0.80" stroke-linejoin="miter"/>
<path d="M516.00,19.50 L517.63,23.86 L522.28,24.06 L518.64,26.96 L519.88,31.44 L516.00,28.87 L512.12,31.44 L513.36,26.96 L509.72,24.06 L514.37,23.86 Z" fill="#ff00ff" stroke="#ff00ff" stroke-width="0.80" stroke-linejoin="miter"/>
<path d="M549.00,19.50 L550.63,23.86 L555.28,24.06 L551.64,26.96 L552.88,31.44 L549.00,28.87 L545.12,31.44 L546.36,26.96 L542.72,24.06 L547.37,23.86 Z" fill="#ff00ff" stroke="#ff00ff" stroke-width="0.80" stroke-linejoin="miter"/>
<path d="M582.00,19.50 L583.63,23.86 L588.28,24.06 L584.64,26.96 L585.88,31.44 L582.00,28.87 L578.12,31.44 L579.36,26.96 L575.72,24.06 L580.37,23.86 Z" fill="#ff00ff" stroke="#ff00ff" stroke-width="0.80" stroke-linejoin="miter"/>
<path d="M615.00,19.50 L616.63,23.86 L621.28,24.06 L617.64,26.96 L618.88,31.44 L615.00,28.87 L611.12,31.44 L612.36,26.96 L608.72,24.06 L613.37,23.86 Z" fill="#ff00ff" stroke="#ff00ff" stroke-width="0.80" stroke-linejoin="miter"/>
<path d="M648.00,19.50 L649.63,23.86 L654.28,24.06 L650.64,26.96 L651.88,31.44 L648.00,28.87 L644.12,31.44 L645.36,26.96 L641.72,24.06 L646.37,23.86 Z" fill="#ff00ff" stroke="#ff00ff" stroke-width="0.80" stroke-linejoin="miter"/>
<path d="M681.00,19.50 L682.63,23.86 L687.28,24.06 L683.64,26.96 L684.88,31.44 L681.00,28.87 L677.12,31.44 L678.36,26.96 L674.72,24.06 L679.37,23.86 Z" fill="#ff00ff" stroke="#ff00ff" stroke-width="0.80" stroke-linejoin="miter"/>
<path d="M714.00,19.50 L715.63,23.86 L720.28,24.06 L716.64,26.96 L717.88,31.44 L714.00,28.87 L710.12,31.44 L711.36,26.96 L707.72,24.06 L712.37,23.86 Z" fill="#ff00ff" stroke="#ff00ff" stroke-width="0.80" stroke-linejoin="miter"/>
<path d="M747.00,19.50 L748.63,23.86 L753.28,24.06 L749.64,26.96 L750.88,31.44 L747.00,28.87 L743.12,31.44 L744.36,26.96 L740.72,24.06 L745.37,23.86 Z" fill="#ff00ff" stroke="#ff00ff" stroke-width="0.80" stroke-linejoin="miter"/>
<path d="M780.00,19.50 L781.63,23.86 L786.28,24.06 L782.64,26.96 L783.88,31.44 L780.00,28.87 L776.12,31.44 L777.36,26.96 L773.72,24.06 L778.37,23.86 Z" fill="#ff00ff" stroke="#ff00ff" stroke-width="0.80" stroke-linejoin="miter"/>
<path d="M450.00,200.53 C455.50,198.81 472.00,193.09 483.00,190.24 C494.00,187.39 505.00,185.68 516.00,183.42 C527.00,181.17 538.00,178.75 549.00,176.71 C560.00,174.68 571.00,172.79 582.00,171.21 C593.00,169.63 604.00,168.55 615.00,167.25 C626.00,165.95 637.00,164.59 648.00,163.40 C659.00,162.21 670.00,161.11 681.00,160.10 C692.00,159.09 703.00,158.41 714.00,157.35 C725.00,156.29 736.00,154.89 747.00,153.72 C758.00,152.55 774.50,150.88 780.00,150.31" fill="none" stroke="#ff0000" stroke-width="2.00" stroke-linejoin="round" stroke-linecap="round"/>
<path d="M445.60,197.44 L454.40,197.44 L450.00,204.71 Z" fill="none" stroke="#ff0000" stroke-width="2.00" stroke-linejoin="miter"/>
<path d="M478.60,187.16 L487.40,187.16 L483.00,194.42 Z" fill="none" stroke="#ff0000" stroke-width="2.00" stroke-linejoin="miter"/>
<path d="M511.60,180.34 L520.40,180.34 L516.00,187.60 Z" fill="none" stroke="#ff0000" stroke-width="2.00" stroke-linejoin="miter"/>
<path d="M544.60,173.63 L553.40,173.63 L549.00,180.89 Z" fill="none" stroke="#ff0000" stroke-width="2.00" stroke-linejoin="miter"/>
<path d="M577.60,168.13 L586.40,168.13 L582.00,175.39 Z" fill="none" stroke="#ff0000" stroke-width="2.00" stroke-linejoin="miter"/>
<path d="M610.60,164.17 L619.40,164.17 L615.00,171.43 Z" fill="none" stroke="#ff0000" stroke-width="2.00" stroke-linejoin="miter"/>
<path d="M643.60,160.32 L652.40,160.32 L648.00,167.58 Z" fill="none" stroke="#ff0000" stroke-width="2.00" stroke-linejoin="miter"/>
<path d="M676.60,157.02 L685.40,157.02 L681.00,164.28 Z" fill="none" stroke="#ff0000" stroke-width="2.00" stroke-linejoin="miter"/>
<path d="M709.60,154.27 L718.40,154.27 L714.00,161.53 Z" fill="none" stroke="#ff0000" stroke-width="2.00" stroke-linejoin="miter"/>
<path d="M742.60,150.64 L751.40,150.64 L747.00,157.90 Z" fill="none" stroke="#ff0000" stroke-width="2.00" stroke-linejoin="miter"/>
<path d="M775.60,147.23 L784.40,147.23 L780.00,154.49 Z" fill="none" stroke="#ff0000" stroke-width="2.00" stroke-linejoin="miter"/>
<path d="M450.00,163.40 L483.00,150.00 L516.00,138.60 L542.00,126.30 L549.00,95.70 L549.00,95.70 C551.17,93.33 556.50,85.78 562.00,81.50 C567.50,77.22 573.17,73.80 582.00,70.00 C590.83,66.20 604.00,62.07 615.00,58.70 C626.00,55.33 637.00,53.18 648.00,49.80 C659.00,46.42 670.00,41.40 681.00,38.40 C692.00,35.40 703.00,33.28 714.00,31.80 C725.00,30.32 736.00,30.47 747.00,29.50 C758.00,28.53 774.50,26.58 780.00,26.00" fill="none" stroke="#ff0000" stroke-width="2.00" stroke-linejoin="round" stroke-linecap="round"/>
<path d="M447.14,159.00 L447.14,167.80 L454.18,163.40 Z" fill="none" stroke="#ff0000" stroke-width="2.00"/>
<path d="M480.14,145.60 L480.14,154.40 L487.18,150.00 Z" fill="none" stroke="#ff0000" stroke-width="2.00"/>
<path d="M513.14,134.20 L513.14,143.00 L520.18,138.60 Z" fill="none" stroke="#ff0000" stroke-width="2.00"/>
<path d="M546.14,91.30 L546.14,100.10 L553.18,95.70 Z" fill="none" stroke="#ff0000" stroke-width="2.00"/>
<path d="M579.14,65.60 L579.14,74.40 L586.18,70.00 Z" fill="none" stroke="#ff0000" stroke-width="2.00"/>
<path d="M612.14,54.30 L612.14,63.10 L619.18,58.70 Z" fill="none" stroke="#ff0000" stroke-width="2.00"/>
<path d="M645.14,45.40 L645.14,54.20 L652.18,49.80 Z" fill="none" stroke="#ff0000" stroke-width="2.00"/>
<path d="M678.14,34.00 L678.14,42.80 L685.18,38.40 Z" fill="none" stroke="#ff0000" stroke-width="2.00"/>
<path d="M711.14,27.40 L711.14,36.20 L718.18,31.80 Z" fill="none" stroke="#ff0000" stroke-width="2.00"/>
<path d="M744.14,25.10 L744.14,33.90 L751.18,29.50 Z" fill="none" stroke="#ff0000" stroke-width="2.00"/>
<path d="M777.14,21.60 L777.14,30.40 L784.18,26.00 Z" fill="none" stroke="#ff0000" stroke-width="2.00"/>
</g>
<rect x="605.50" y="130.00" width="122.90" height="144.20" fill="#fff" stroke="#808080" stroke-width="1"/>
<path d="M613.10,139.90 H647.40" stroke="#0000ff" stroke-width="2.00"/>
<path d="M626.00,139.90 h8.40 M630.20,135.70 v8.40" stroke="#0000ff" stroke-width="1.60"/>
<text x="651.00" y="144.30" font-family="'Liberation Serif', serif" font-size="10.4" textLength="72.0" lengthAdjust="spacingAndGlyphs" fill="#2a2a2a">λ=20 No Backoff</text>
<path d="M613.10,156.60 H647.40" stroke="#0000ff" stroke-width="2.00"/>
<circle cx="630.20" cy="156.60" r="3.85" fill="none" stroke="#0000ff" stroke-width="1.60"/>
<text x="651.00" y="161.00" font-family="'Liberation Serif', serif" font-size="10.4" textLength="72.0" lengthAdjust="spacingAndGlyphs" fill="#2a2a2a">λ=50 No Backoff</text>
<path d="M613.10,173.50 H647.40" stroke="#000000" stroke-width="2.00"/>
<path d="M630.20,169.90 L632.90,173.50 L630.20,177.10 L627.50,173.50 Z" fill="#000000" stroke="#000000" stroke-width="0.96"/>
<text x="651.00" y="177.10" font-family="'Liberation Serif', serif" font-size="10.4" fill="#2a2a2a">λ=20 W<tspan font-size="7.1" dy="4.0">PBO</tspan><tspan dy="-4.0">=500</tspan></text>
<path d="M613.10,193.10 H647.40" stroke="#000000" stroke-width="2.00"/>
<rect x="626.60" y="189.50" width="7.20" height="7.20" fill="none" stroke="#000000" stroke-width="1.60"/>
<text x="651.00" y="196.70" font-family="'Liberation Serif', serif" font-size="10.4" fill="#2a2a2a">λ=50 W<tspan font-size="7.1" dy="4.0">PBO</tspan><tspan dy="-4.0">=500</tspan></text>
<path d="M613.10,211.60 H647.40" stroke="#ff00ff" stroke-width="2.00"/>
<path d="M630.20,207.10 L633.80,211.60 L630.20,216.10 L626.60,211.60 Z" fill="none" stroke="#ff00ff" stroke-width="1.60"/>
<text x="651.00" y="215.20" font-family="'Liberation Serif', serif" font-size="10.4" fill="#2a2a2a">λ=20 W<tspan font-size="7.1" dy="4.0">PBO</tspan><tspan dy="-4.0">=1000</tspan></text>
<path d="M613.10,230.60 H647.40" stroke="#ff00ff" stroke-width="2.00"/>
<path d="M630.20,224.00 L631.83,228.36 L636.48,228.56 L632.84,231.46 L634.08,235.94 L630.20,233.37 L626.32,235.94 L627.56,231.46 L623.92,228.56 L628.57,228.36 Z" fill="#ff00ff" stroke="#ff00ff" stroke-width="0.80" stroke-linejoin="miter"/>
<text x="651.00" y="234.20" font-family="'Liberation Serif', serif" font-size="10.4" fill="#2a2a2a">λ=50 W<tspan font-size="7.1" dy="4.0">PBO</tspan><tspan dy="-4.0">=1000</tspan></text>
<path d="M613.10,247.30 H647.40" stroke="#ff0000" stroke-width="2.00"/>
<path d="M625.80,244.22 L634.60,244.22 L630.20,251.48 Z" fill="none" stroke="#ff0000" stroke-width="2.00" stroke-linejoin="miter"/>
<text x="651.00" y="251.70" font-family="'Liberation Serif', serif" font-size="10.4" textLength="49.6" lengthAdjust="spacingAndGlyphs" fill="#2a2a2a">λ=20 DPBO</text>
<path d="M613.10,264.90 H647.40" stroke="#ff0000" stroke-width="2.00"/>
<path d="M627.34,260.50 L627.34,269.30 L634.38,264.90 Z" fill="none" stroke="#ff0000" stroke-width="2.00"/>
<text x="651.00" y="269.30" font-family="'Liberation Serif', serif" font-size="10.4" textLength="49.6" lengthAdjust="spacingAndGlyphs" fill="#2a2a2a">λ=50 DPBO</text>
<text x="439.7" y="289.00" font-family="'Liberation Sans', sans-serif" font-size="11.2" text-anchor="end" fill="#111">10</text>
<text x="439.9" y="281.60" font-family="'Liberation Sans', sans-serif" font-size="7.3" fill="#111">-2</text>
<text x="439.7" y="234.00" font-family="'Liberation Sans', sans-serif" font-size="11.2" text-anchor="end" fill="#111">10</text>
<text x="439.9" y="226.60" font-family="'Liberation Sans', sans-serif" font-size="7.3" fill="#111">-1</text>
<text x="439.7" y="179.00" font-family="'Liberation Sans', sans-serif" font-size="11.2" text-anchor="end" fill="#111">10</text>
<text x="439.9" y="171.60" font-family="'Liberation Sans', sans-serif" font-size="7.3" fill="#111">0</text>
<text x="439.7" y="124.00" font-family="'Liberation Sans', sans-serif" font-size="11.2" text-anchor="end" fill="#111">10</text>
<text x="439.9" y="116.60" font-family="'Liberation Sans', sans-serif" font-size="7.3" fill="#111">1</text>
<text x="439.7" y="69.00" font-family="'Liberation Sans', sans-serif" font-size="11.2" text-anchor="end" fill="#111">10</text>
<text x="439.9" y="61.60" font-family="'Liberation Sans', sans-serif" font-size="7.3" fill="#111">2</text>
<text x="439.7" y="14.00" font-family="'Liberation Sans', sans-serif" font-size="11.2" text-anchor="end" fill="#111">10</text>
<text x="439.9" y="6.60" font-family="'Liberation Sans', sans-serif" font-size="7.3" fill="#111">3</text>
<text x="450.50" y="298.8" font-family="'Liberation Sans', sans-serif" font-size="10.9" text-anchor="middle" fill="#111">1</text>
<text x="516.50" y="298.8" font-family="'Liberation Sans', sans-serif" font-size="10.9" text-anchor="middle" fill="#111">2</text>
<text x="582.50" y="298.8" font-family="'Liberation Sans', sans-serif" font-size="10.9" text-anchor="middle" fill="#111">3</text>
<text x="648.50" y="298.8" font-family="'Liberation Sans', sans-serif" font-size="10.9" text-anchor="middle" fill="#111">4</text>
<text x="714.50" y="298.8" font-family="'Liberation Sans', sans-serif" font-size="10.9" text-anchor="middle" fill="#111">5</text>
<text x="780.50" y="298.8" font-family="'Liberation Sans', sans-serif" font-size="10.9" text-anchor="middle" fill="#111">6</text>
<text x="754.00" y="319.20" font-family="'Liberation Sans', sans-serif" font-size="11.20" fill="#111">x</text>
<text x="764.20" y="319.20" font-family="'Liberation Sans', sans-serif" font-size="11.20" textLength="10.90" lengthAdjust="spacingAndGlyphs" fill="#111">10</text>
<text x="775.90" y="312.00" font-family="'Liberation Sans', sans-serif" font-size="6.80" fill="#111">4</text>
<text x="550.2" y="313.0" font-family="'Liberation Serif', serif" font-size="11" textLength="126.3" lengthAdjust="spacingAndGlyphs" fill="#333">Number of M2M devices</text>
<text x="559.7" y="341.8" font-family="'Liberation Serif', serif" font-size="19.5" textLength="21.6" lengthAdjust="spacingAndGlyphs" fill="#111">(<tspan font-weight="bold">b</tspan>)</text>
<text transform="translate(417.8,185.7) rotate(-90)" x="0" y="0" font-family="'Liberation Serif', serif" font-size="10.6" textLength="72.6" lengthAdjust="spacingAndGlyphs" fill="#333">Average Delay</text>
</svg>
</body></html>
